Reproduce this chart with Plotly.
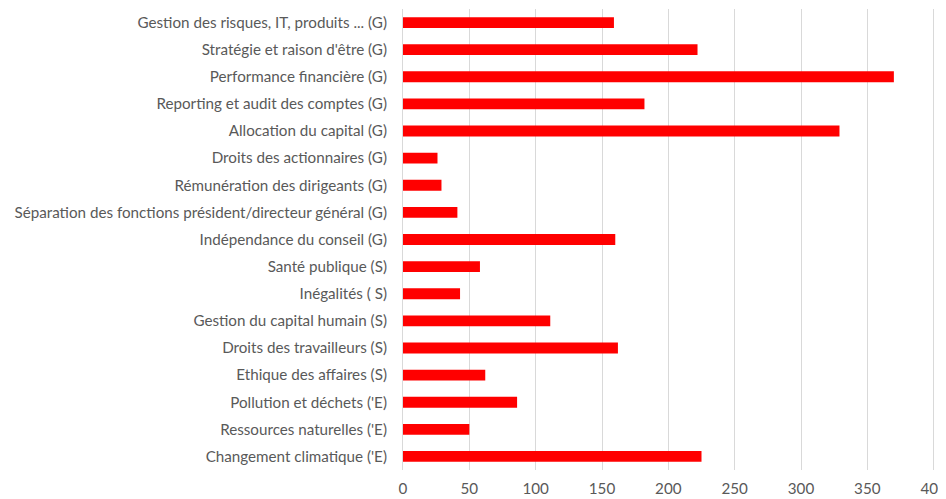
import plotly.graph_objects as go

categories = [
    "Gestion des risques, IT, produits ... (G)",
    "Stratégie et raison d'être (G)",
    "Performance financière (G)",
    "Reporting et audit des comptes (G)",
    "Allocation du capital (G)",
    "Droits des actionnaires (G)",
    "Rémunération des dirigeants (G)",
    "Séparation des fonctions président/directeur général (G)",
    "Indépendance du conseil (G)",
    "Santé publique (S)",
    "Inégalités ( S)",
    "Gestion du capital humain (S)",
    "Droits des travailleurs (S)",
    "Ethique des affaires (S)",
    "Pollution et déchets ('E)",
    "Ressources naturelles ('E)",
    "Changement climatique ('E)",
]
values = [159, 222, 370, 182, 329, 26, 29, 41, 160, 58, 43, 111, 162, 62, 86, 50, 225]
x_ticks = [0, 50, 100, 150, 200, 250, 300, 350, 400]

fig = go.Figure(go.Bar(
    x=values, y=categories, orientation="h",
    marker=dict(color="#ff0000", line=dict(width=0)),
))
# page body has an 8px default margin, so the figure is sized to fit the window
fig.update_layout(
    width=938, height=491,
    margin=dict(l=395, r=11, t=1, b=29),
    plot_bgcolor="white", paper_bgcolor="white",
    bargap=0.6,
    showlegend=False,
    font=dict(family="Lato, Carlito, sans-serif", size=15.2, color="#595959"),
)
fig.update_xaxes(
    range=[0, 401], tickvals=x_ticks, showgrid=True, gridcolor="#d9d9d9", gridwidth=1,
    zeroline=False, showline=False, ticks="", ticklabelstandoff=8, automargin=False,
    ticklabeloverflow="allow",
    tickfont=dict(size=15.2, color="#595959"),
)
fig.update_yaxes(
    autorange="reversed", showgrid=False, showline=True, linecolor="#d9d9d9",
    ticks="outside", ticklen=12, tickcolor="rgba(0,0,0,0)", automargin=False,
    tickfont=dict(size=15.2, color="#595959"),
)
fig.write_html("out.html")
